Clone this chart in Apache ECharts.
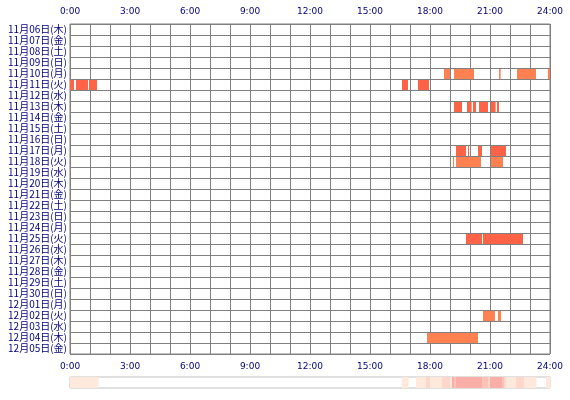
<!DOCTYPE html>
<html><head><meta charset="utf-8">
<script src="https://cdn.jsdelivr.net/npm/echarts@6/dist/echarts.min.js"></script>
<style>html,body{margin:0;background:#fff}#c{width:570px;height:400px}</style>
</head><body><div id="c"></div>
<script>
const days = ['11月06日(木)','11月07日(金)','11月08日(土)','11月09日(日)','11月10日(月)','11月11日(火)','11月12日(水)','11月13日(木)','11月14日(金)','11月15日(土)','11月16日(日)','11月17日(月)','11月18日(火)','11月19日(水)','11月20日(木)','11月21日(金)','11月22日(土)','11月23日(日)','11月24日(月)','11月25日(火)','11月26日(水)','11月27日(木)','11月28日(金)','11月29日(土)','11月30日(日)','12月01日(月)','12月02日(火)','12月03日(水)','12月04日(木)','12月05日(金)']
const hourTicks = ['0:00','3:00','6:00','9:00','12:00','15:00','18:00','21:00','24:00']
// [row, start hour, end hour]
const darkSegs = [
  [5,0.0,0.2],[5,0.3,0.9],[5,0.95,1.35],[5,16.6,16.9],[5,17.4,17.95],
  [7,19.2,19.6],[7,19.85,20.08],[7,20.15,20.3],[7,20.45,20.9],[7,21.05,21.28],[7,21.35,21.45],
  [11,19.3,19.8],[11,19.9,19.95],[11,20.4,20.6],[11,21.05,21.8],
  [19,19.8,20.6],[19,20.65,22.65]
]
const lightSegs = [
  [4,18.7,19.0],[4,19.2,20.2],[4,21.45,21.53],[4,22.35,23.3],[4,23.9,24.0],
  [12,19.15,19.2],[12,19.3,20.55],[12,21.05,21.65],
  [26,20.65,21.25],[26,21.4,21.55],
  [28,17.85,20.4]
]

const segs = darkSegs.map(s => [s[1], s[2], s[0], 0]).concat(lightSegs.map(s => [s[1], s[2], s[0], 1]))

// summary strip: how many segments cover each 0.1h bin
const bins = []
for (let i = 0; i < 240; i++) {
  const a = i / 10, b = a + 0.1
  let n = 0
  segs.forEach(s => { if (s[0] < b && s[1] > a) n++ })
  bins.push([a, b, n])
}

const lbl = { color: '#000080', fontSize: 9, fontFamily: 'DejaVu Sans' }
const hourAxis = (pos) => ({
  type: 'value', gridIndex: 0, position: pos, min: 0, max: 24, interval: 1,
  axisLine: { show: false }, axisTick: { show: false },
  splitLine: { show: true, lineStyle: { color: '#808080', width: 1 } },
  axisLabel: { ...lbl, formatter: v => v % 3 === 0 ? hourTicks[v / 3] : '' }
})

const chart = echarts.init(document.getElementById('c'))
chart.setOption({
  animation: false,
  grid: [
    { left: 70, right: 20, top: 24, bottom: 46, show: true, borderColor: '#808080', borderWidth: 1 },
    { left: 70, right: 20, top: 377, height: 11, show: true, borderColor: '#c0c0c0', borderWidth: 1 }
  ],
  xAxis: [
    hourAxis('top'), { ...hourAxis('bottom') },
    { type: 'value', gridIndex: 1, min: 0, max: 24, show: false }
  ],
  yAxis: [
    { type: 'category', gridIndex: 0, data: days, inverse: true,
      axisLine: { show: false }, axisTick: { show: false },
      splitLine: { show: true, lineStyle: { color: '#808080', width: 1 } },
      axisLabel: { color: '#000080', fontSize: 10, fontFamily: 'Noto Sans CJK JP', margin: 3, interval: 0 } },
    { type: 'value', gridIndex: 1, min: 0, max: 1, show: false }
  ],
  series: [
    { type: 'custom', xAxisIndex: 0, yAxisIndex: 0, data: segs, z: 1,
      renderItem: (p, api) => {
        const s = api.coord([api.value(0), api.value(2)])
        const e = api.coord([api.value(1), api.value(2)])
        const h = api.size([0, 1])[1]
        return { type: 'rect', shape: { x: s[0], y: s[1] - h / 2 + 1, width: Math.max(e[0] - s[0], 1), height: h - 1 },
          style: { fill: api.value(3) ? '#FF8050' : '#FF6347' } }
      } },
    { type: 'custom', xAxisIndex: 2, yAxisIndex: 1, data: bins,
      renderItem: (p, api) => {
        const n = api.value(2)
        if (!n) return null
        const s = api.coord([api.value(0), 1])
        const e = api.coord([api.value(1), 0])
        const cols = ['#fff', '#FFE8DC', '#FDD8CA', '#FBC2B8', '#F9AEA8']
        return { type: 'rect', shape: { x: s[0], y: s[1], width: e[0] - s[0] + 0.5, height: e[1] - s[1] },
          style: { fill: cols[Math.min(n, 4)] } }
      } }
  ]
})
</script></body></html>
